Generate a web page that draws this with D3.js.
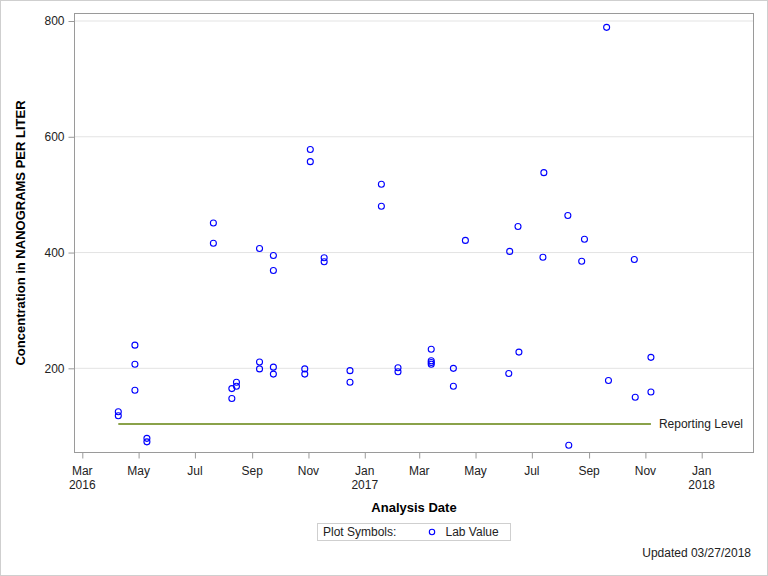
<!DOCTYPE html>
<html><head><meta charset="utf-8">
<script src="https://cdn.jsdelivr.net/npm/d3@7"></script>
<style>body{margin:0;background:#fff}svg{display:block}text{font-family:"Liberation Sans",Arial,sans-serif}</style>
</head><body>
<script>
const dates = ["2016-04-09","2016-04-09","2016-04-27","2016-04-27","2016-04-27","2016-05-10","2016-05-10",
"2016-07-21","2016-07-21","2016-08-10","2016-08-10","2016-08-15","2016-08-15",
"2016-09-09","2016-09-09","2016-09-09","2016-09-24","2016-09-24","2016-09-24","2016-09-24",
"2016-10-28","2016-10-28","2016-11-03","2016-11-03","2016-11-18","2016-11-18",
"2016-12-16","2016-12-16","2017-01-19","2017-01-19","2017-02-06","2017-02-06",
"2017-03-14","2017-03-14","2017-03-14","2017-03-14","2017-04-07","2017-04-07","2017-04-20",
"2017-06-06","2017-06-07","2017-06-16","2017-06-17","2017-07-13","2017-07-14",
"2017-08-09","2017-08-10","2017-08-24","2017-08-27","2017-09-20","2017-09-22",
"2017-10-20","2017-10-21","2017-11-07","2017-11-07"];
const values = [125,118,240,207,162,79,73,
451,416,148,165,176,169,
407,211,199,395,369,202,190,
199,190,578,557,391,384,
196,176,518,480,201,194,
233,213,210,207,200,169,421,
191,402,445,228,392,538,
464,67,385,423,789,179,
388,150,219,159];
const reportingLevel = 104;
const reportingStart = "2016-04-09", reportingEnd = "2017-11-07";
const xTickDates = ["2016-03-01","2016-05-01","2016-07-01","2016-09-01","2016-11-01","2017-01-01","2017-03-01","2017-05-01","2017-07-01","2017-09-01","2017-11-01","2018-01-01"];
const yTicks = [200,400,600,800];

const W=768,H=576, L=74,R=754,T=13,B=453;
const svg=d3.select("body").append("svg").attr("width",W).attr("height",H);
svg.append("rect").attr("x",0.5).attr("y",0.5).attr("width",W-1).attr("height",H-1).attr("fill","#fff").attr("stroke","#cfcfcf");
const pd=d3.utcParse("%Y-%m-%d");
const x=d3.scaleUtc().domain([pd("2016-03-01"),pd("2018-01-01")]).range([82.3,701.7]);
const y=d3.scaleLinear().domain([0,800]).range([484.1,21]);

// gridlines
svg.append("g").selectAll("line").data(yTicks).join("line")
 .attr("x1",L).attr("x2",R).attr("y1",d=>y(d)).attr("y2",d=>y(d)).attr("stroke","#e3e3e3");

// frame
svg.append("rect").attr("x",L+0.5).attr("y",T+0.5).attr("width",R-L-1).attr("height",B-T-1).attr("fill","none").attr("stroke","#9a9a9a");

// y axis
const ya=svg.append("g").attr("transform",`translate(${L+0.5},0)`).call(d3.axisLeft(y).tickValues(yTicks).tickSize(6).tickPadding(4).tickFormat(d3.format("d")));
ya.select(".domain").remove();
ya.selectAll("line").attr("stroke","#9a9a9a");
ya.selectAll("text").attr("font-size",12).attr("fill","#222").attr("font-family","Liberation Sans, Arial, sans-serif");

// x axis
const xa=svg.append("g").attr("transform",`translate(0,${B-0.5})`).call(d3.axisBottom(x).tickValues(xTickDates.map(pd)).tickSize(6).tickFormat(""));
xa.select(".domain").remove();
xa.selectAll("line").attr("stroke","#9a9a9a");
const mfmt=d3.utcFormat("%b"), yfmt=d3.utcFormat("%Y");
const xl=svg.append("g");
xTickDates.map(pd).forEach(d=>{
  xl.append("text").attr("x",x(d)).attr("y",475).attr("text-anchor","middle").attr("font-size",12).attr("fill","#222").text(mfmt(d));
  if(d.getUTCMonth()===0||+d===+pd(xTickDates[0])) xl.append("text").attr("x",x(d)).attr("y",489).attr("text-anchor","middle").attr("font-size",12).attr("fill","#222").text(yfmt(d));
});

// reporting level
svg.append("line").attr("x1",x(pd(reportingStart))).attr("x2",x(pd(reportingEnd))).attr("y1",y(reportingLevel)).attr("y2",y(reportingLevel)).attr("stroke","#8aa24a").attr("stroke-width",2);
svg.append("text").attr("x",x(pd(reportingEnd))+8).attr("y",y(reportingLevel)+4).attr("font-size",12).attr("fill","#222").text("Reporting Level");

// points
svg.append("g").selectAll("circle").data(dates.map((d,i)=>({d:pd(d),v:values[i]}))).join("circle")
 .attr("cx",p=>x(p.d)).attr("cy",p=>y(p.v)).attr("r",3).attr("fill","none").attr("stroke","#0000ff").attr("stroke-width",1.1);

// axis titles
svg.append("text").attr("transform",`translate(25,${(T+B)/2}) rotate(-90)`).attr("text-anchor","middle").attr("font-size",13).attr("font-weight","bold").attr("fill","#000").text("Concentration in NANOGRAMS PER LITER");
svg.append("text").attr("x",(L+R)/2).attr("y",512).attr("text-anchor","middle").attr("font-size",13).attr("font-weight","bold").attr("fill","#000").text("Analysis Date");

// legend
svg.append("rect").attr("x",317.5).attr("y",523.5).attr("width",193).attr("height",17).attr("fill","none").attr("stroke","#cfcfcf");
svg.append("text").attr("x",323).attr("y",536).attr("font-size",12).attr("fill","#222").text("Plot Symbols:");
svg.append("circle").attr("cx",432).attr("cy",532).attr("r",2.7).attr("fill","none").attr("stroke","#0000ff").attr("stroke-width",1.1);
svg.append("text").attr("x",445.5).attr("y",536).attr("font-size",12).attr("fill","#222").text("Lab Value");
svg.append("text").attr("x",751).attr("y",557).attr("text-anchor","end").attr("font-size",12).attr("fill","#222").text("Updated 03/27/2018");
</script>
</body></html>
